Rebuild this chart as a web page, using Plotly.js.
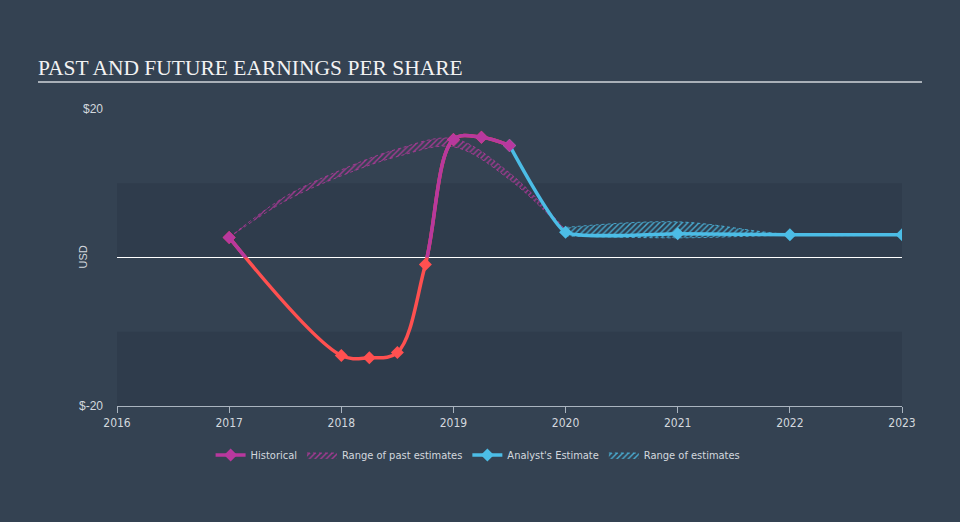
<!DOCTYPE html>
<html>
<head>
<meta charset="utf-8">
<script src="https://cdn.plot.ly/plotly-3.0.1.min.js"></script>
<style>
html,body{margin:0;padding:0;background:#344252;}
#chart{width:960px;height:522px;}
</style>
</head>
<body>
<div id="chart"></div>
<script>
// ---- data ----
const histYears = [2017, 2018, 2018.25, 2018.5, 2018.75, 2019, 2019.25, 2019.5];
const histEps   = [2.7, -13.2, -13.5, -12.8, -0.95, 15.9, 16.2, 15.1];

const estYears  = [2019.5, 2020, 2021, 2022, 2023];
const estEps    = [15.1, 3.4, 3.2, 3.06, 3.06];

const pastRangeYears = [2017, 2017.5, 2018, 2018.5, 2019, 2019.5, 2020];
const pastRangeHigh  = [2.7, 8.2, 11.8, 14.6, 16.0, 11.4, 3.7];
const pastRangeLow   = [2.7, 7.6, 11.0, 13.6, 14.9, 10.5, 3.4];

const estRangeYears = [2020, 2021, 2022, 2023];
const estRangeHigh  = [4.05, 4.8, 3.1, 3.06];
const estRangeLow   = [2.9, 2.65, 3.0, 3.06];

const xTickVals = [2016, 2017, 2018, 2019, 2020, 2021, 2022, 2023];
const xTickText = ['2016','2017','2018','2019','2020','2021','2022','2023'];
const yTickVals = [-20, 20];
const yTickText = ['$-20', '$20'];

// ---- styles ----
const MAGENTA = '#b8389e';
const RED = '#ff5050';
const CYAN = '#4cbde6';
const narrow = '"DejaVu Sans Condensed", "Liberation Sans Narrow", "Arial Narrow", sans-serif';

const traces = [
  // past estimates range
  {x: pastRangeYears, y: pastRangeHigh, type: 'scatter', mode: 'lines',
   line: {color: 'rgba(184,56,158,0.8)', width: 1, dash: 'dot', shape: 'spline'},
   showlegend: false, hoverinfo: 'skip'},
  {x: pastRangeYears, y: pastRangeLow, type: 'scatter', mode: 'lines', fill: 'tonexty',
   name: 'Range of past estimates', legendrank: 2,
   line: {color: 'rgba(184,56,158,0.8)', width: 1, dash: 'dot', shape: 'spline'},
   fillcolor: 'rgba(0,0,0,0)',
   fillpattern: {shape: '/', fgcolor: 'rgba(184,56,158,0.85)', bgcolor: 'rgba(0,0,0,0)', size: 4, solidity: 0.35}},
  // future estimates range
  {x: estRangeYears, y: estRangeHigh, type: 'scatter', mode: 'lines',
   line: {color: 'rgba(76,189,230,0.8)', width: 1, dash: 'dot', shape: 'spline'},
   showlegend: false, hoverinfo: 'skip'},
  {x: estRangeYears, y: estRangeLow, type: 'scatter', mode: 'lines', fill: 'tonexty',
   name: 'Range of estimates', legendrank: 4,
   line: {color: 'rgba(76,189,230,0.8)', width: 1, dash: 'dot', shape: 'spline'},
   fillcolor: 'rgba(0,0,0,0)',
   fillpattern: {shape: '/', fgcolor: 'rgba(76,189,230,0.85)', bgcolor: 'rgba(0,0,0,0)', size: 4, solidity: 0.35}},
  // historical: full line in red (negative part visible)
  {x: histYears, y: histEps, type: 'scatter', mode: 'lines+markers',
   line: {color: RED, width: 3.5, shape: 'spline'},
   marker: {symbol: 'diamond', size: 10, color: RED},
   showlegend: false, hoverinfo: 'skip'},
  // historical: same line on an upper-half axis, clipped to positive values, in magenta
  {x: histYears, y: histEps, type: 'scatter', mode: 'lines+markers', yaxis: 'y2',
   name: 'Historical', legendrank: 1,
   line: {color: MAGENTA, width: 3.5, shape: 'spline'},
   marker: {symbol: 'diamond', size: 10, color: MAGENTA}},
  // analyst estimate
  {x: estYears, y: estEps, type: 'scatter', mode: 'lines+markers',
   name: "Analyst's Estimate", legendrank: 3,
   line: {color: CYAN, width: 3.5, shape: 'spline', smoothing: 0.45},
   marker: {symbol: 'diamond', size: 10, color: CYAN}}
];

const layout = {
  width: 960, height: 522,
  paper_bgcolor: '#344252',
  plot_bgcolor: 'rgba(0,0,0,0)',
  margin: {l: 117, r: 58, t: 109, b: 116, pad: 0},
  title: {
    text: 'PAST AND FUTURE EARNINGS PER SHARE',
    font: {family: '"Liberation Serif", "DejaVu Serif", serif', size: 21.5, color: '#f2f2f2'},
    x: 38/960, xref: 'container', xanchor: 'left',
    y: 1 - 67/522, yref: 'container', yanchor: 'middle'
  },
  showlegend: true,
  legend: {
    orientation: 'h', x: 0.46, xanchor: 'center', y: -0.165, yanchor: 'middle',
    font: {family: narrow, size: 11, color: '#d3d8de'},
    bgcolor: 'rgba(0,0,0,0)', itemwidth: 30, traceorder: 'normal'
  },
  xaxis: {
    range: [2016, 2023], tickvals: xTickVals, ticktext: xTickText,
    showgrid: false, zeroline: false,
    showline: true, linecolor: '#aab4bf', linewidth: 1,
    ticks: 'outside', ticklen: 6, tickcolor: '#aab4bf', tickwidth: 1,
    tickfont: {family: narrow, size: 12, color: '#d3d8de'},
    fixedrange: true
  },
  yaxis: {
    range: [-20, 20], domain: [0, 1], tickvals: yTickVals, ticktext: yTickText,
    showgrid: false, zeroline: true, zerolinecolor: '#ffffff', zerolinewidth: 1,
    showline: false, ticks: '', ticklabelstandoff: 13,
    tickfont: {family: '"Liberation Sans", Arial, sans-serif', size: 12, color: '#d3d8de'},
    fixedrange: true
  },
  yaxis2: {
    range: [0, 20], domain: [0.5, 1], anchor: 'x', visible: false,
    showgrid: false, zeroline: false, fixedrange: true
  },
  shapes: [
    {type: 'rect', xref: 'paper', yref: 'y', x0: 0, x1: 1, y0: 0, y1: 10,
     fillcolor: '#2f3c4c', line: {width: 0}, layer: 'below'},
    {type: 'rect', xref: 'paper', yref: 'y', x0: 0, x1: 1, y0: -20, y1: -10,
     fillcolor: '#2f3c4c', line: {width: 0}, layer: 'below'},
    {type: 'line', xref: 'paper', yref: 'paper',
     x0: (38-117)/785, x1: (922-117)/785, y0: (406-82)/297, y1: (406-82)/297,
     line: {color: '#a9b0b8', width: 2}}
  ],
  annotations: [
    {text: 'USD', xref: 'paper', yref: 'y', x: (82-117)/785, y: 0, textangle: -90,
     showarrow: false, xanchor: 'center', yanchor: 'middle',
     font: {family: '"Liberation Sans", Arial, sans-serif', size: 11, color: '#d3d8de'}}
  ],
  hovermode: false
};

Plotly.newPlot('chart', traces, layout, {staticPlot: true, displayModeBar: false});
</script>
</body>
</html>
